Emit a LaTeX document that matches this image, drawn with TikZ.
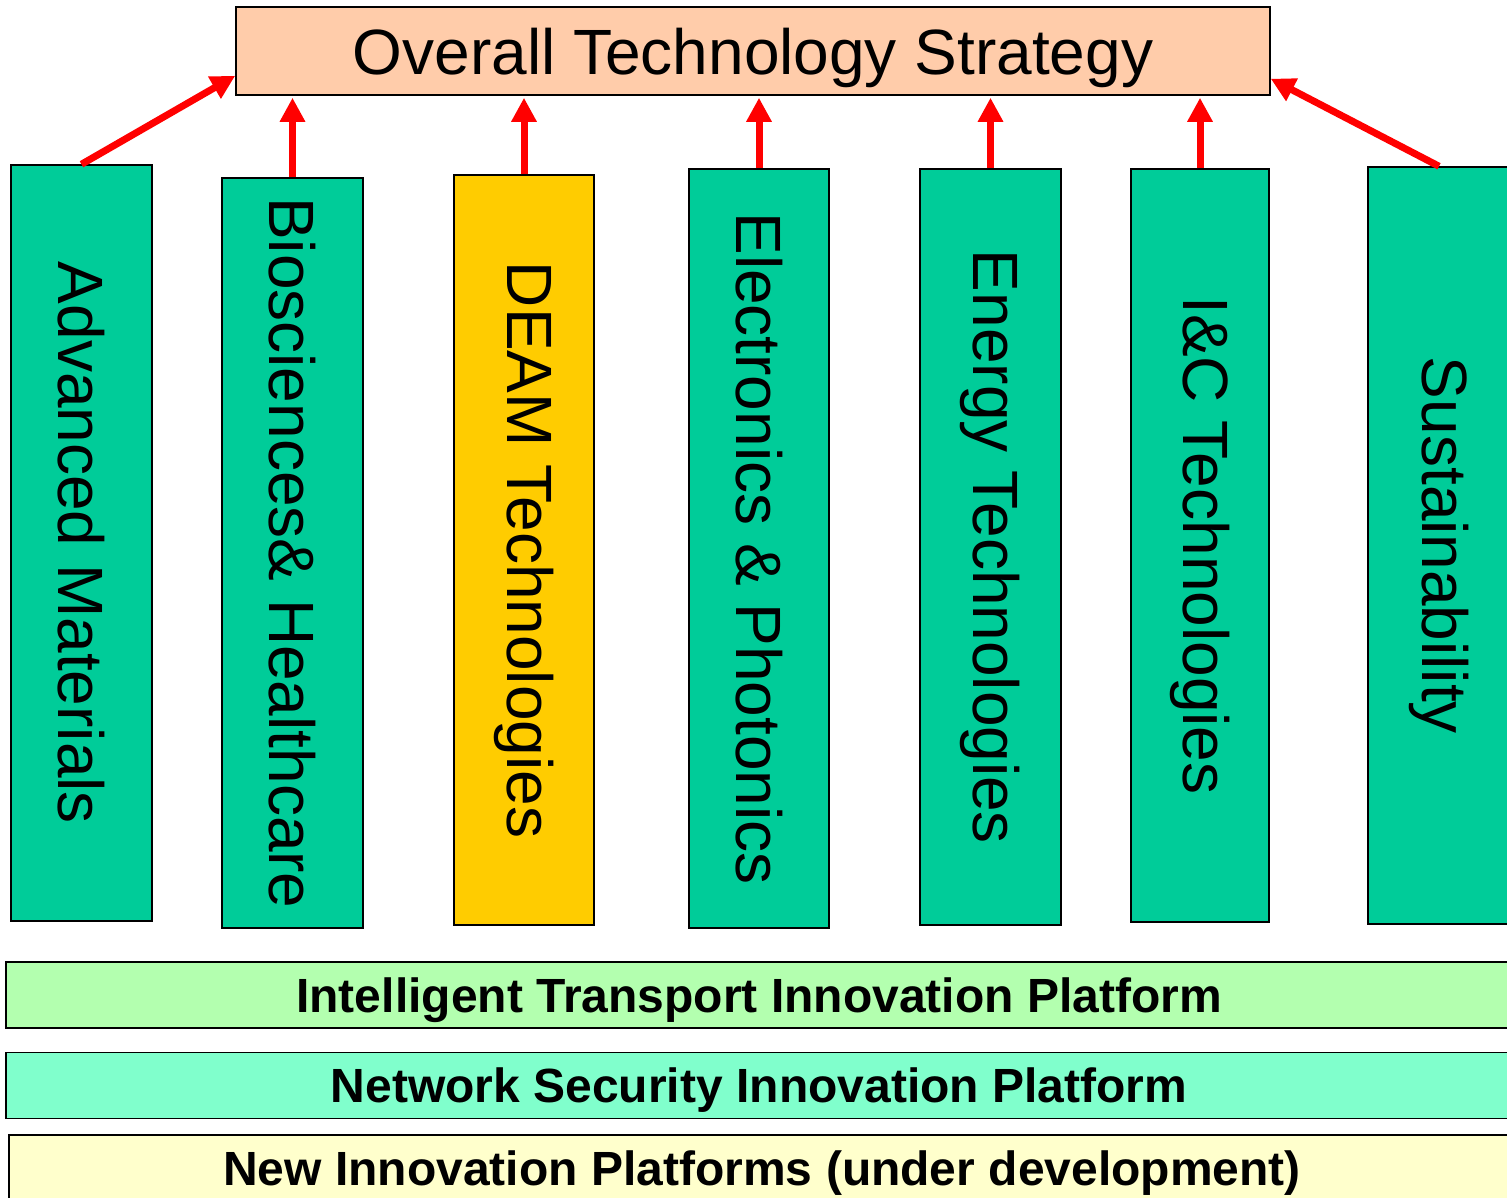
\documentclass[tikz,border=0pt]{standalone}
\usepackage{fontspec}
\setmainfont{Liberation Sans}
\usetikzlibrary{arrows.meta}

\definecolor{peach}{RGB}{255,204,170}
\definecolor{colgreen}{RGB}{0,204,153}
\definecolor{colyellow}{RGB}{255,204,0}
\definecolor{lightgreen}{RGB}{179,255,175}
\definecolor{aqua}{RGB}{128,255,204}
\definecolor{paleyellow}{RGB}{255,255,204}

\tikzset{
  column/.style={draw,line width=1.5pt,fill=colgreen,inner sep=0pt,
    font=\fontsize{64}{70}\selectfont},
  platform/.style={draw,line width=1.5pt,minimum width=1506pt,minimum height=66pt,
    inner sep=0pt,text depth=0pt,font=\fontsize{48}{54}\selectfont\bfseries},
  arr/.style={draw=red,line width=7pt,-{Triangle[length=24pt,width=24pt]}}
}

\begin{document}
\begin{tikzpicture}[x=1pt,y=-1pt]
      \useasboundingbox (0,0) rectangle (1507,1197);

      \node[draw,line width=1.5pt,fill=peach,minimum width=1034pt,minimum height=88pt,
        text depth=0pt,font=\fontsize{64}{70}\selectfont] (title) at (753,51) {Overall Technology Strategy};

      % columns
      \node[column,minimum width=141pt,minimum height=756pt] (am) at (81.5,543) {\rotatebox{-90}{Advanced Materials}};
      \node[column,minimum width=141pt,minimum height=750pt] (bh) at (292.5,553) {\rotatebox{-90}{Biosciences\& Healthcare}};
      \node[column,fill=colyellow,minimum width=140pt,minimum height=750pt] (deam) at (524,550) {\rotatebox{-90}{DEAM Technologies}};
      \node[column,minimum width=140pt,minimum height=759pt] (ep) at (759,548.5) {\rotatebox{-90}{Electronics \& Photonics}};
      \node[column,minimum width=141pt,minimum height=756pt] (et) at (990.5,547) {\rotatebox{-90}{Energy Technologies}};
      \node[column,minimum width=138pt,minimum height=753pt] (ic) at (1200,545.5) {\rotatebox{-90}{I\&C Technologies}};
      \node[column,minimum width=142pt,minimum height=757pt] (sus) at (1439,545.5) {\rotatebox{-90}{Sustainability}};

      \draw[arr] (am.north) -- ([yshift=20pt]title.south west);
      \foreach \c in {bh,deam,ep,et,ic} {
        \draw[arr,shorten >=2pt] (\c.north) -- (\c.north |- title.south);
      }
      \draw[arr] (sus.north) -- ([yshift=17pt]title.south east);

      % platforms
      \node[platform,fill=lightgreen] (itp) at (759,995) {Intelligent Transport Innovation Platform};
      \node[platform,fill=aqua] (nsp) at (759,1085.5) {Network Security Innovation Platform};
      \node[platform,fill=paleyellow] (nip) at (762,1168) {New Innovation Platforms (under development)};
    \end{tikzpicture}
\end{document}
